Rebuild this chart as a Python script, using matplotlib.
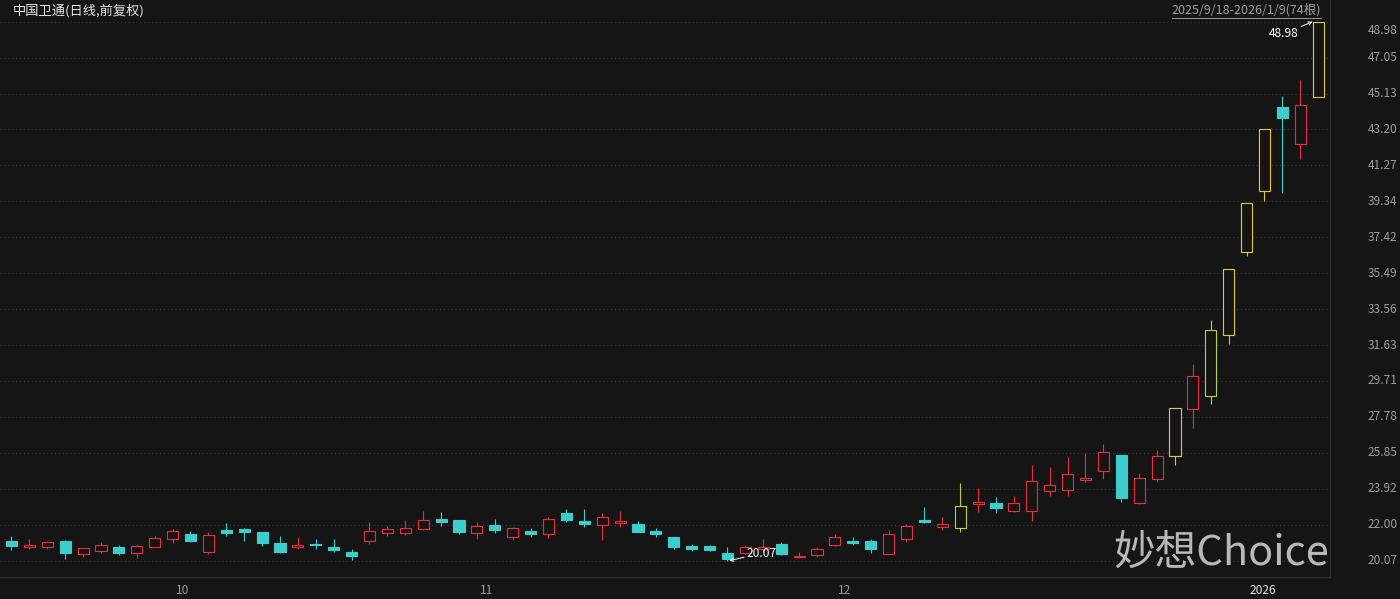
import matplotlib
matplotlib.use('Agg')
import matplotlib.pyplot as plt
from matplotlib.patches import Rectangle
from matplotlib.lines import Line2D
import matplotlib.transforms as mtransforms

plt.rcParams['font.family'] = ['Noto Sans CJK SC', 'DejaVu Sans']

# ---------------- data ----------------
title = '中国卫通(日线,前复权)'
range_label = '2025/9/18-2026/1/9(74根)'
watermark = '妙想Choice'

opens = [21.14, 20.82, 20.82, 21.13, 20.41, 20.61, 20.79, 20.47, 20.82, 21.25,
         21.50, 20.54, 21.72, 21.77, 21.61, 21.04, 20.79, 20.97, 20.81, 20.54,
         21.14, 21.57, 21.57, 21.75, 22.29, 22.25, 21.57, 22.00, 21.36, 21.68,
         21.52, 22.61, 22.22, 21.97, 22.11, 22.04, 21.68, 21.33, 20.86, 20.86,
         20.50, 20.50, 20.68, 20.95, 20.27, 20.38, 20.93, 21.13, 21.13, 20.45,
         21.22, 22.27, 21.89, 21.84, 23.13, 23.18, 22.72, 22.71, 23.83, 23.88,
         24.40, 24.90, 25.74, 23.15, 24.47, 25.67, 28.23, 28.92, 32.16, 36.62,
         39.92, 44.43, 42.41, 44.93]
highs = [21.40, 21.25, 21.13, 21.18, 20.76, 21.09, 20.91, 20.97, 21.40, 21.77,
         21.65, 21.61, 22.11, 21.84, 21.63, 21.40, 21.36, 21.23, 21.23, 20.68,
         22.13, 21.95, 22.25, 22.74, 22.68, 22.27, 22.13, 22.32, 21.89, 21.84,
         22.43, 22.84, 22.84, 22.65, 22.75, 22.18, 21.84, 21.35, 20.97, 20.93,
         20.79, 20.91, 21.26, 21.06, 20.55, 20.82, 21.49, 21.33, 21.23, 21.72,
         22.04, 22.95, 22.40, 24.22, 23.95, 23.50, 23.54, 25.20, 25.11, 25.63,
         25.85, 26.35, 25.76, 24.78, 26.01, 28.26, 30.61, 32.96, 35.70, 39.27,
         43.20, 45.00, 45.86, 48.98]
lows = [20.64, 20.71, 20.71, 20.15, 20.29, 20.47, 20.38, 20.23, 20.80, 21.00,
        21.07, 20.43, 21.41, 21.13, 20.86, 20.47, 20.68, 20.68, 20.54, 20.12,
        20.97, 21.41, 21.47, 21.73, 21.93, 21.50, 21.25, 21.57, 21.18, 21.36,
        21.30, 22.16, 21.86, 21.18, 21.89, 21.61, 21.36, 20.71, 20.61, 20.61,
        20.07, 20.43, 20.46, 20.39, 20.20, 20.28, 20.86, 20.91, 20.47, 20.44,
        21.07, 22.11, 21.72, 21.61, 22.70, 22.65, 22.70, 22.22, 23.56, 23.56,
        24.28, 24.45, 23.24, 23.13, 24.28, 25.20, 27.17, 28.48, 31.70, 36.43,
        39.38, 39.81, 41.60, 44.93]
closes = [20.87, 20.93, 21.07, 20.50, 20.74, 20.91, 20.47, 20.86, 21.27, 21.65,
          21.14, 21.45, 21.57, 21.63, 21.04, 20.54, 20.93, 20.91, 20.64, 20.34,
          21.65, 21.75, 21.82, 22.25, 22.15, 21.63, 21.93, 21.72, 21.81, 21.49,
          22.29, 22.27, 22.05, 22.40, 22.20, 21.63, 21.49, 20.82, 20.68, 20.64,
          20.15, 20.79, 20.79, 20.41, 20.32, 20.70, 21.34, 21.04, 20.68, 21.49,
          21.92, 22.16, 22.02, 22.99, 23.24, 22.90, 23.17, 24.35, 24.13, 24.72,
          24.51, 25.90, 23.43, 24.49, 25.69, 28.26, 29.96, 32.45, 35.70, 39.27,
          43.20, 43.80, 44.53, 48.98]

month_index = [9, 26, 46, 69]
month_labels = ['10', '11', '12', '2026']
y_ticks = [48.98, 47.05, 45.13, 43.20, 41.27, 39.34, 37.42, 35.49,
           33.56, 31.63, 29.71, 27.78, 25.85, 23.92, 22.00, 20.07]
limit_ratio = 0.10

# ---------------- style ----------------
BG = '#151515'
RED = '#e8303c'
CYAN = '#3ccdcd'
YELLOW = '#e8c62c'
LIME = '#b4d43a'
GRID = '#3a3a3a'
AXC = '#9c9c9c'
BODY_W = 0.62
LW = 0.8

W, H = 1400, 599
fig = plt.figure(figsize=(W / 100, H / 100), dpi=100, facecolor=BG)
ax_left, ax_right, ax_top, ax_bottom = 0, 1330, 18, 577
ax = fig.add_axes([ax_left / W, 1 - ax_bottom / H, (ax_right - ax_left) / W,
                   (ax_bottom - ax_top) / H])
ax.set_facecolor(BG)
n = len(closes)
ax.set_xlim(-0.642, n - 0.34)
ax.set_ylim(19.195, 49.18)

for side in ['left', 'top', 'right']:
    ax.spines[side].set_visible(False)
ax.spines['bottom'].set_color('#2e2e2e')
ax.spines['bottom'].set_linewidth(1.0)
ax.set_xticks([])
ax.set_yticks(y_ticks)
ax.yaxis.grid(True, color=GRID, linestyle=(0, (1, 2.5)), linewidth=0.8)
ax.set_axisbelow(True)
ax.tick_params(axis='y', length=0, labelleft=False, labelright=False)

# right border line across the whole height
fig.add_artist(Line2D([ax_right / W, ax_right / W], [1, 1 - ax_bottom / H],
                      color='#2e2e2e', lw=1.0))

# ---------------- candles ----------------
for i in range(n):
    o, h, l, c = opens[i], highs[i], lows[i], closes[i]
    kind = 'up' if c >= o else 'down'
    if i > 0:
        lim = round(closes[i - 1] * (1 + limit_ratio) + 1e-9, 2)
        if c >= lim - 0.005:
            kind = 'limit'
        elif h >= lim - 0.005:
            kind = 'touch'
    col = {'up': RED, 'down': CYAN, 'limit': YELLOW, 'touch': LIME}[kind]
    top, bot = max(o, c), min(o, c)
    if kind == 'down':
        ax.vlines(i, l, h, color=col, lw=LW, zorder=2)
        ax.add_patch(Rectangle((i - BODY_W / 2, bot), BODY_W, max(top - bot, 0.02),
                               facecolor=col, edgecolor=col, lw=LW, zorder=3))
    else:
        if h > top:
            ax.vlines(i, top, h, color=col, lw=LW, zorder=2)
        if l < bot:
            ax.vlines(i, l, bot, color=col, lw=LW, zorder=2)
        ax.add_patch(Rectangle((i - BODY_W / 2, bot), BODY_W, max(top - bot, 0.02),
                               facecolor=BG, edgecolor=col, lw=LW, zorder=3))

# ---------------- price labels on the right ----------------
blend_y = mtransforms.blended_transform_factory(ax.transAxes, ax.transData)
ymax = max(y_ticks)
for v in y_ticks:
    dy = -9 if v == ymax else 0
    tr = mtransforms.offset_copy(blend_y, fig=fig, x=38, y=dy, units='dots')
    ax.text(1.0, v, f'{v:.2f}', transform=tr, ha='left', va='center',
            fontsize=8.6, color=AXC, clip_on=False)

# ---------------- month labels ----------------
blend_x = mtransforms.blended_transform_factory(ax.transData, ax.transAxes)
for idx, lab in zip(month_index, month_labels):
    tr = mtransforms.offset_copy(blend_x, fig=fig, x=3, y=-14, units='dots')
    ax.text(idx, 0, lab, transform=tr, ha='left', va='center', fontsize=8.6,
            color='#e6e6e6' if lab == '2026' else AXC, clip_on=False)

# ---------------- high / low annotations ----------------
imax = highs.index(max(highs))
imin = lows.index(min(lows))
ax.annotate(f'{highs[imax]:.2f}', xy=(imax - BODY_W / 2, highs[imax]),
            xytext=(-21, -8.5), textcoords='offset points', ha='center', va='center',
            fontsize=8.6, color='white',
            arrowprops=dict(arrowstyle='->', color='white', lw=0.7,
                            mutation_scale=6, shrinkA=0, shrinkB=0), zorder=5)
ax.annotate(f'{lows[imin]:.2f}', xy=(imin + 0.1, lows[imin]),
            xytext=(23.5, 5.5), textcoords='offset points', ha='center', va='center',
            fontsize=8.6, color='white',
            arrowprops=dict(arrowstyle='->', color='white', lw=0.7,
                            mutation_scale=6, shrinkA=0, shrinkB=0), zorder=5)

# ---------------- header texts ----------------
fig.text(13 / W, 1 - 11 / H, title, ha='left', va='center', fontsize=9.5,
         color='#e6e6e6')
rt = fig.text(1321 / W, 1 - 10 / H, range_label, ha='right', va='center',
              fontsize=9, color=AXC)

# watermark
fig.text(1329 / W, 1 - 553 / H, watermark, ha='right', va='center', fontsize=30,
         color='#b8b8b8', zorder=10)

fig.canvas.draw()
bb = rt.get_window_extent()
uy = 1 - 18 / H
fig.add_artist(Line2D([bb.x0 / W, bb.x1 / W], [uy, uy], color=AXC, lw=0.7))

fig.savefig('out.png', dpi=100, facecolor=BG)
